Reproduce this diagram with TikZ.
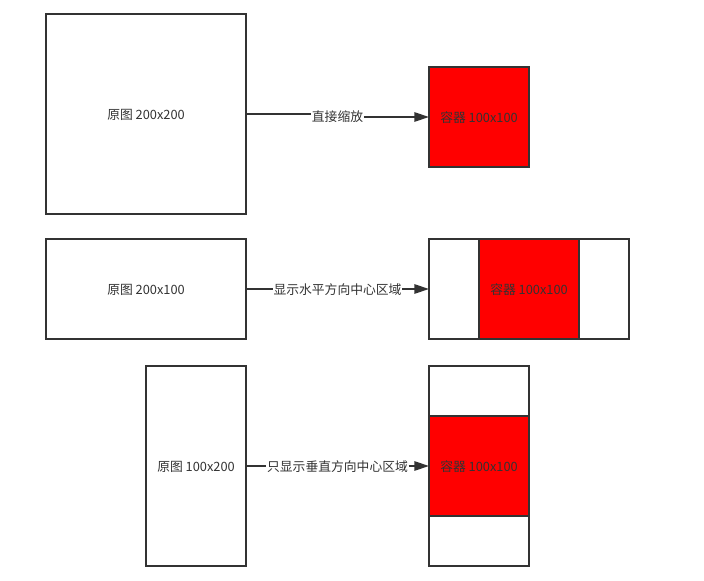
\documentclass[tikz,border=0pt]{standalone}
\usepackage{fontspec}
\setmainfont{Noto Sans CJK SC}
\usetikzlibrary{arrows.meta}
\definecolor{ink}{HTML}{333333}
\begin{document}
\begin{tikzpicture}[x=0.75pt,y=-0.75pt,
  box/.style={draw=ink,line width=1.5pt,fill=white,inner sep=0pt,outer sep=0pt},
  redbox/.style={box,fill=red},
  txt/.style={text=ink,font=\fontsize{9.6}{11}\selectfont,inner sep=0pt},
  lab/.style={txt,fill=white,inner sep=0.4pt},
  conn/.style={draw=ink,line width=1.5pt},
  arr/.style={conn,-{Triangle[length=11pt,width=7pt]}}]
\useasboundingbox (0,0) rectangle (704,581);
% row 1
\draw[box] (46,14) rectangle (246,214);
\node[txt] (A) at (146,115) {原图 200x200};
\coordinate (Ae) at (246,114);
\draw[redbox] (429,67) rectangle (529,167);
\node[txt] (B) at (479,118) {容器 100x100};
\coordinate (Bw) at (429,117);
\node[lab] (L1) at (337.5,116.5) {直接缩放};
\draw[conn] (Ae) -- (Ae -| L1.west);
\draw[arr] (Bw -| L1.east) -- (Bw);
% row 2
\draw[box] (46,239) rectangle (246,339);
\node[txt] (C) at (146,290) {原图 200x100};
\coordinate (Ce) at (246,289);
\draw[box] (429,239) rectangle (629,339);
\draw[redbox] (479,239) rectangle (579,339);
\node[txt] (D) at (529,290) {容器 100x100};
\coordinate (Dw) at (429,289);
\node[lab] (L2) at (337.5,290) {显示水平方向中心区域};
\draw[conn] (Ce) -- (Ce -| L2.west);
\draw[arr] (Dw -| L2.east) -- (Dw);
% row 3
\draw[box] (146,366) rectangle (246,566);
\node[txt] (E) at (196,467) {原图 100x200};
\coordinate (Ee) at (246,466);
\draw[box] (429,366) rectangle (529,566);
\draw[redbox] (429,416) rectangle (529,516);
\node[txt] (F) at (479,467) {容器 100x100};
\coordinate (Fw) at (429,466);
\node[lab] (L3) at (337.5,467) {只显示垂直方向中心区域};
\draw[conn] (Ee) -- (Ee -| L3.west);
\draw[arr] (Fw -| L3.east) -- (Fw);
\end{tikzpicture}
\end{document}
